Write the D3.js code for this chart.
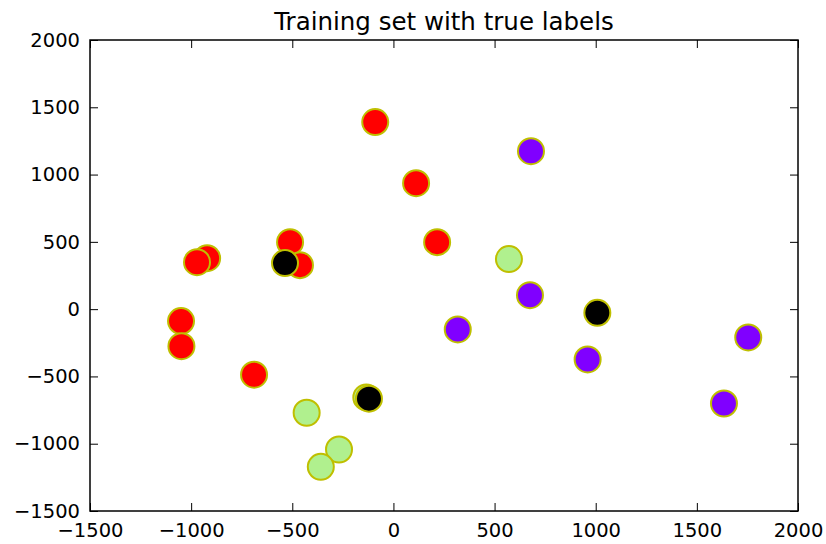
<!DOCTYPE html>
<html>
<head>
    <meta charset="utf-8">
    <title>Training set with true labels</title>
    <script type="text/javascript" src="https://d3js.org/d3.v7.min.js"></script>
    <style>
        body { margin: 0; background: #fff; }
        text { font-family: "DejaVu Sans", sans-serif; fill: #000; }
    </style>
</head>
<body>
    <div id="chart"></div>
    <script>
        // points per class
        var redX = [-90, 112, 216, -511, -462, -921, -971, -1050, -1048, -689];
        var redY = [1390, 936, 498, 498, 327, 379, 349, -89, -275, -487];
        var greenX = [571, -429, -269, -359, -134];
        var greenY = [372, -770, -1043, -1172, -656];
        var purpleX = [680, 675, 318, 960, 1754, 1634];
        var purpleY = [1174, 104, -151, -374, -210, -701];
        var blackX = [-536, -121, 1008];
        var blackY = [342, -665, -27];
        var ticks = [-1500, -1000, -500, 0, 500, 1000, 1500, 2000];

        var margin = {top: 40, right: 28, bottom: 33, left: 90},
            width = 826 - margin.left - margin.right,
            height = 544 - margin.top - margin.bottom;

        var x = d3.scaleLinear().domain([-1500, 2000]).range([0, width]);
        var y = d3.scaleLinear().domain([-1500, 2000]).range([height, 0]);

        var svg = d3.select("#chart").append("svg")
            .attr("width", width + margin.left + margin.right)
            .attr("height", height + margin.top + margin.bottom)
            .append("g")
            .attr("transform", "translate(" + margin.left + "," + margin.top + ")");

        var groups = [
            {xs: redX, ys: redY, color: "#ff0000"},
            {xs: greenX, ys: greenY, color: "#b0f08e"},
            {xs: purpleX, ys: purpleY, color: "#8000ff"},
            {xs: blackX, ys: blackY, color: "#000000"}
        ];

        groups.forEach(function(g) {
            svg.append("g").selectAll("circle")
                .data(g.xs)
                .enter().append("circle")
                .attr("cx", function(d) { return x(d); })
                .attr("cy", function(d, i) { return y(g.ys[i]); })
                .attr("r", 13)
                .attr("fill", g.color)
                .attr("stroke", "#bfbf00")
                .attr("stroke-width", 2);
        });

        var fmt = function(d) { return d3.format("d")(d).replace("-", "\u2212"); };

        // matplotlib classic: ticks inside on all four sides
        svg.append("g")
            .attr("transform", "translate(0," + height + ")")
            .call(d3.axisBottom(x).tickValues(ticks).tickSize(-8).tickPadding(12).tickFormat(fmt));
        svg.append("g")
            .call(d3.axisTop(x).tickValues(ticks).tickSize(-8).tickFormat(""));
        svg.append("g")
            .call(d3.axisLeft(y).tickValues(ticks).tickSize(-8).tickPadding(10).tickFormat(fmt));
        svg.append("g")
            .attr("transform", "translate(" + width + ",0)")
            .call(d3.axisRight(y).tickValues(ticks).tickSize(-8).tickFormat(""));

        svg.selectAll(".domain").remove();
        svg.selectAll(".tick line").attr("stroke", "#000").attr("stroke-width", 1);
        svg.selectAll(".tick text")
            .style("font-family", "DejaVu Sans")
            .style("font-size", "19.5px")
            .attr("fill", "#000");

        svg.append("rect")
            .attr("width", width)
            .attr("height", height)
            .attr("fill", "none")
            .attr("stroke", "#000")
            .attr("stroke-width", 1.5);

        svg.append("text")
            .attr("x", width / 2)
            .attr("y", -10)
            .style("text-anchor", "middle")
            .style("font-size", "24.5px")
            .text("Training set with true labels");
    </script>
</body>
</html>
